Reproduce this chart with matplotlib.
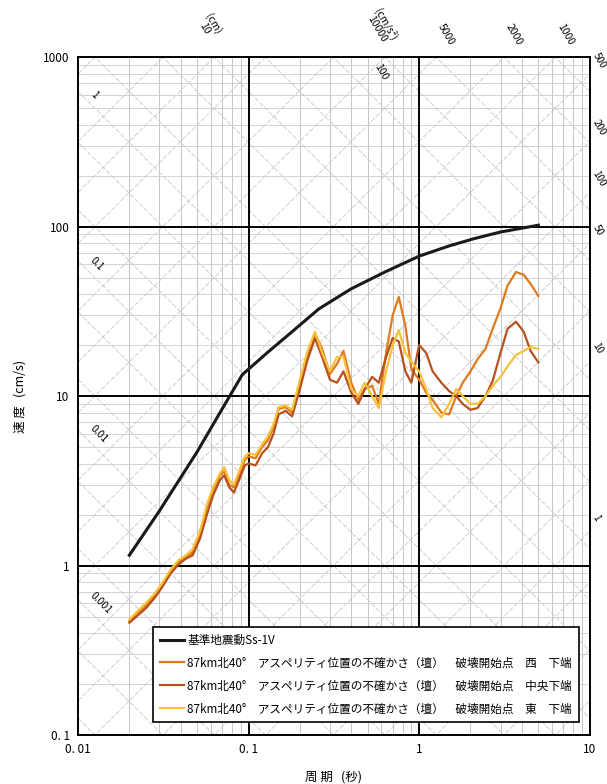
import numpy as np
import matplotlib
matplotlib.use("Agg")
import matplotlib.pyplot as plt

plt.rcParams['font.family'] = ['Noto Sans CJK JP', 'DejaVu Sans']

# ---------------- data ----------------
ss_period = [0.02, 0.03, 0.05, 0.07, 0.092, 0.13, 0.18, 0.258, 0.4, 0.63, 1.0, 1.5, 2.1, 3.0, 5.0]
ss_vel = [1.15, 2.1, 4.7, 8.4, 13.4, 18.2, 24, 32.7, 43, 54, 67, 77, 85, 93, 102]

period = [0.020, 0.022, 0.025, 0.028, 0.031, 0.035, 0.039, 0.043, 0.047, 0.052,
          0.057, 0.062, 0.068, 0.072, 0.077, 0.082, 0.088, 0.095, 0.10, 0.11,
          0.12, 0.13, 0.14, 0.15, 0.165, 0.18, 0.20, 0.22, 0.245, 0.27,
          0.30, 0.33, 0.36, 0.40, 0.44, 0.48, 0.53, 0.58, 0.64, 0.70,
          0.76, 0.83, 0.90, 1.0, 1.1, 1.2, 1.35, 1.5, 1.65, 1.8,
          2.0, 2.2, 2.45, 2.7, 3.0, 3.3, 3.7, 4.1, 4.5, 5.0]

vel_west = [0.47, 0.52, 0.58, 0.66, 0.76, 0.93, 1.05, 1.12, 1.20, 1.55,
            2.2, 2.8, 3.4, 3.6, 3.0, 2.9, 3.4, 4.2, 4.4, 4.3,
            5.0, 5.5, 6.6, 8.4, 8.6, 8.0, 12.0, 17.0, 23.5, 19.0,
            13.5, 15.5, 18.5, 12.0, 9.5, 11.0, 11.5, 9.0, 18.0, 30.0,
            38.5, 26.0, 14.5, 12.5, 10.5, 9.5, 8.0, 7.8, 10.0, 12.0,
            14.0, 16.5, 19.0, 25.0, 33.0, 45.0, 54.0, 52.0, 46.0, 39.0]

vel_center = [0.46, 0.50, 0.56, 0.64, 0.74, 0.90, 1.02, 1.10, 1.15, 1.45,
              2.0, 2.6, 3.2, 3.4, 2.9, 2.7, 3.2, 3.9, 4.0, 3.9,
              4.6, 5.0, 6.0, 7.8, 8.2, 7.6, 11.0, 16.0, 22.0, 17.0,
              12.5, 12.0, 14.0, 10.5, 9.0, 11.0, 13.0, 12.0, 17.0, 22.0,
              21.0, 14.0, 12.0, 20.0, 18.0, 14.0, 12.0, 10.7, 10.0, 9.0,
              8.3, 8.5, 10.0, 12.3, 18.0, 25.0, 27.5, 24.0, 18.5, 15.8]

vel_east = [0.48, 0.53, 0.60, 0.68, 0.78, 0.95, 1.08, 1.15, 1.25, 1.60,
            2.3, 2.9, 3.5, 3.8, 3.2, 3.0, 3.6, 4.4, 4.6, 4.5,
            5.2, 5.8, 6.8, 8.6, 8.8, 8.3, 12.5, 18.0, 24.0, 18.0,
            14.0, 17.0, 17.0, 11.0, 10.0, 12.0, 10.0, 8.5, 14.0, 20.0,
            24.5, 18.0, 16.0, 14.0, 11.0, 8.5, 7.5, 9.0, 11.0, 10.0,
            9.0, 9.0, 10.0, 11.5, 13.0, 15.0, 17.5, 18.5, 19.5, 19.0]

labels = ["基準地震動Ss-1V",
          "87km北40°　アスペリティ位置の不確かさ（壇）　破壊開始点　西　下端",
          "87km北40°　アスペリティ位置の不確かさ（壇）　破壊開始点　中央下端",
          "87km北40°　アスペリティ位置の不確かさ（壇）　破壊開始点　東　下端"]
colors = ["#1a1a1a", "#e07a1e", "#b8501e", "#f5c23a"]

xticks = [0.01, 0.1, 1, 10]
xticklabels = ["0. 01", "0. 1", "1", "10"]
yticks = [0.1, 1, 10, 100, 1000]
yticklabels = ["0. 1", "1", "10", "100", "1000"]

disp_labels = [(1, "1"), (0.1, "0.1"), (0.01, "0.01"), (0.001, "0.001")]
acc_right_labels = [500, 200, 100, 50, 10, 1]
acc_top_labels = [5000, 2000, 1000]

# ---------------- figure ----------------
fig = plt.figure(figsize=(6.07, 7.84), dpi=100)
ax = fig.add_axes([0.1285, 0.0625, 0.843, 0.8645])
ax.set_xscale('log')
ax.set_yscale('log')
ax.set_xlim(0.01, 10)
ax.set_ylim(0.1, 1000)

# minor grid
for dec in [0.01, 0.1, 1]:
    for m in range(2, 10):
        ax.axvline(dec * m, color='#bdbdbd', lw=0.6, zorder=0)
for dec in [0.1, 1, 10, 100]:
    for m in range(2, 10):
        ax.axhline(dec * m, color='#cccccc', lw=0.6, zorder=0)

# tripartite diagonal lines
T = np.logspace(-2, 1, 50)
for k in range(-5, 5):
    for m in [1, 2, 5]:
        d = m * 10.0 ** k
        ax.plot(T, 2 * np.pi * d / T, color='#c8c8c8', lw=0.6, ls=(0, (6, 2)), zorder=0)
for k in range(-3, 7):
    for m in [1, 2, 5]:
        a = m * 10.0 ** k
        ax.plot(T, a * T / (2 * np.pi), color='#c8c8c8', lw=0.6, ls=(0, (6, 2)), zorder=0)

# major grid
for v in [0.1, 1, 10]:
    ax.axvline(v, color='black', lw=1.4, zorder=1)
for v in [1, 10, 100]:
    ax.axhline(v, color='black', lw=1.4, zorder=1)

# curves
ax.plot(ss_period, ss_vel, color=colors[0], lw=2.2, label=labels[0], zorder=5)
ax.plot(period, vel_west, color=colors[1], lw=1.6, label=labels[1], zorder=4)
ax.plot(period, vel_center, color=colors[2], lw=1.6, label=labels[2], zorder=4)
ax.plot(period, vel_east, color=colors[3], lw=1.6, label=labels[3], zorder=4)

for s in ax.spines.values():
    s.set_linewidth(1.4)

ax.set_xticks(xticks)
ax.set_xticklabels(xticklabels, fontsize=8.5)
ax.set_yticks(yticks)
ax.set_yticklabels(yticklabels, fontsize=8.5)
ax.xaxis.set_minor_locator(matplotlib.ticker.NullLocator())
ax.yaxis.set_minor_locator(matplotlib.ticker.NullLocator())
ax.tick_params(length=0, pad=6)

ax.set_xlabel("周 期   (秒)", fontsize=9, labelpad=10)
ax.set_ylabel("速 度   (cm/s)", fontsize=9, labelpad=12)

# displacement labels on left edge
for d, txt in disp_labels:
    t0 = 0.0115
    ax.text(t0, 2 * np.pi * d / t0 * 1.1, txt, fontsize=7.5, rotation=-45,
            ha='left', va='center', zorder=6)
# top displacement labels
ax.text(2 * np.pi * 10 / 1000 * 0.93, 1250, "(cm)\n10", fontsize=7.5, rotation=-60,
        ha='center', va='bottom', clip_on=False, linespacing=0.9)
ax.text(0.60, 820, "100", fontsize=7.5, rotation=-60, ha='center', va='center')
# top acceleration labels
ax.text(0.60, 1150, "(cm/s²)\n10000", fontsize=7.5, rotation=-60, ha='center',
        va='bottom', clip_on=False, linespacing=0.9)
for a in acc_top_labels:
    t = 2 * np.pi * 1000 / a
    ax.text(t * 1.15, 1150, str(a), fontsize=7.5, rotation=-60, ha='center',
            va='bottom', clip_on=False)
for a in acc_right_labels:
    v = a * 10 / (2 * np.pi)
    ax.text(10.15, v * 1.2, str(a), fontsize=7, rotation=-60, ha='left',
            va='center', clip_on=False)

leg = ax.legend(loc='lower right', bbox_to_anchor=(0.99, 0.01), fontsize=8.4,
                frameon=True, fancybox=False, edgecolor='black',
                handlelength=2.0, handletextpad=0.3, borderpad=0.6,
                labelspacing=0.85)
leg.get_frame().set_linewidth(1.2)
leg.get_frame().set_alpha(1)
leg.set_zorder(10)

fig.savefig("out.png", dpi=100)
